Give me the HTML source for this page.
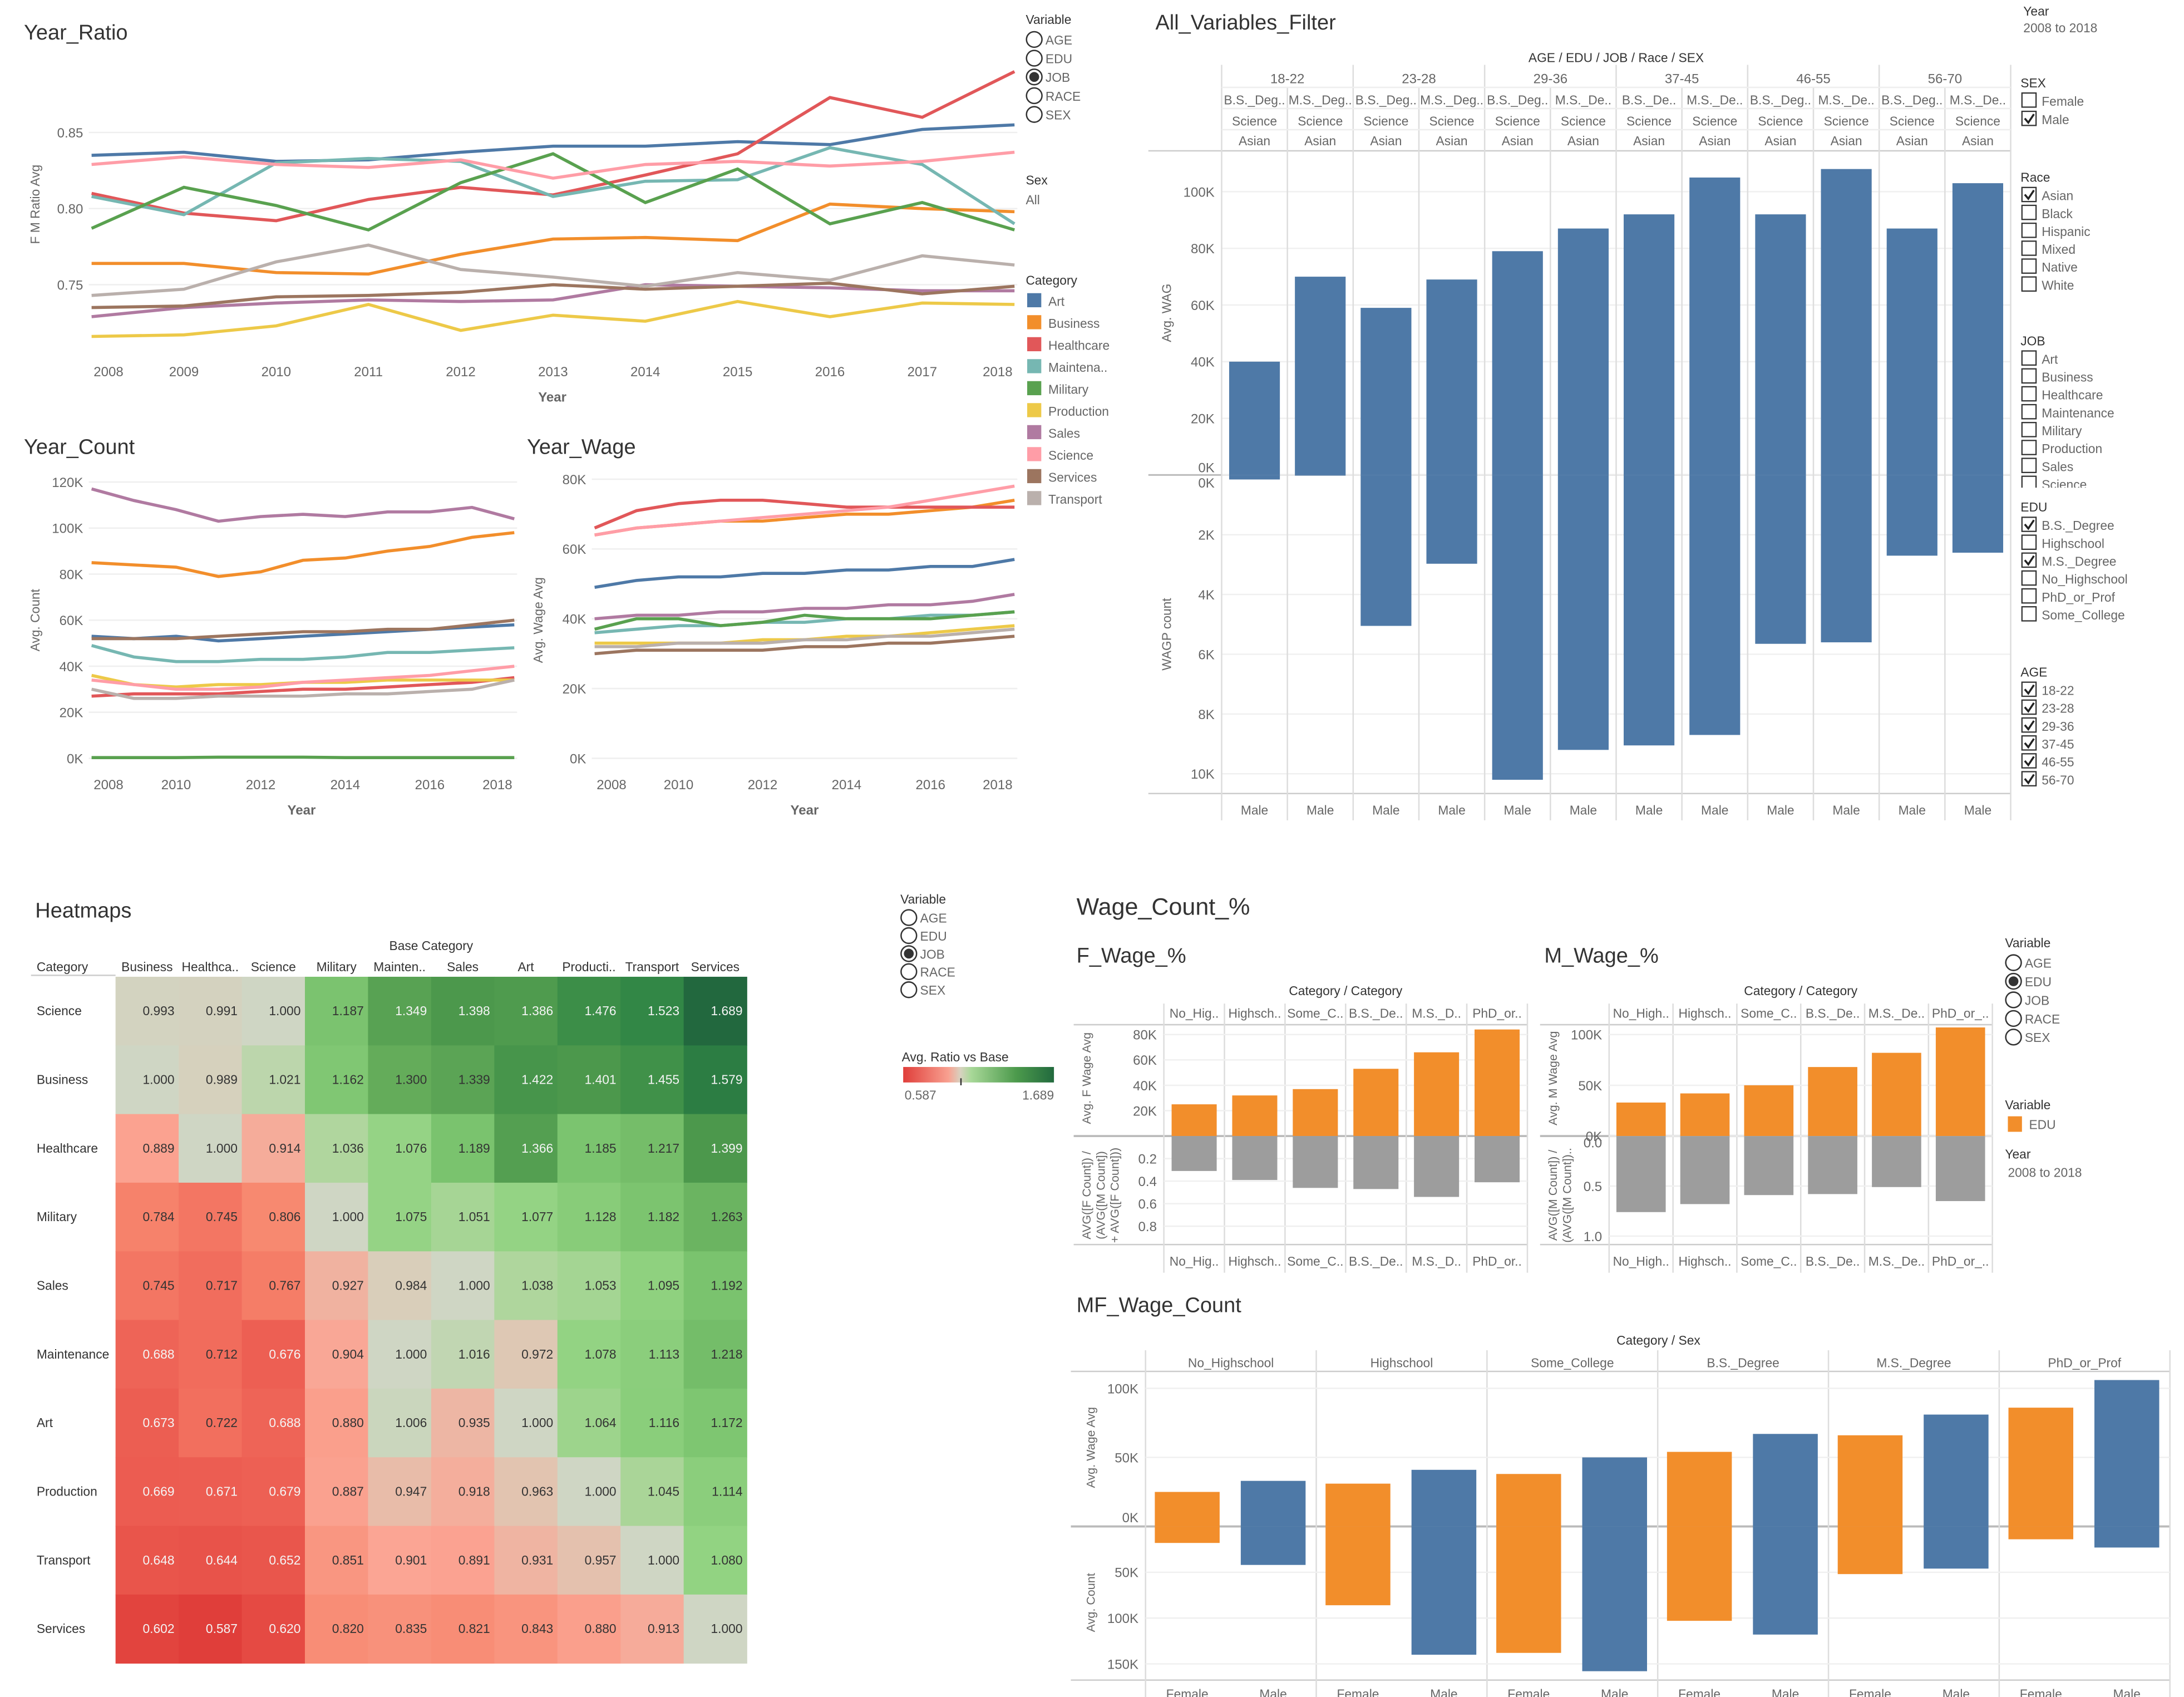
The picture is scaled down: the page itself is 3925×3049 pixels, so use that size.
<!DOCTYPE html>
<html><head><meta charset="utf-8"><style>
html,body{margin:0;padding:0;background:#fff}
svg{display:block}
text{font-family:"Liberation Sans",sans-serif}
</style></head><body>
<svg id="root" xmlns="http://www.w3.org/2000/svg" width="3925" height="3049" viewBox="0 0 1550 1204" preserveAspectRatio="none"></svg>
<script>
// ---------- data ----------
const years = [2008,2009,2010,2011,2012,2013,2014,2015,2016,2017,2018];
const categories = ["Art","Business","Healthcare","Maintenance","Military","Production","Sales","Science","Services","Transport"];
const legendLabels = ["Art","Business","Healthcare","Maintena..","Military","Production","Sales","Science","Services","Transport"];
const catColors = ["#4e79a7","#f28e2b","#e15759","#76b7b2","#59a14f","#edc948","#b07aa1","#ff9da7","#9c755f","#bab0ac"];
// Year_Ratio
const ratioArt = [0.835,0.837,0.831,0.832,0.837,0.841,0.841,0.844,0.842,0.852,0.855];
const ratioBusiness = [0.764,0.764,0.758,0.757,0.770,0.780,0.781,0.779,0.803,0.800,0.798];
const ratioHealthcare = [0.810,0.797,0.792,0.806,0.814,0.809,0.822,0.836,0.873,0.860,0.890];
const ratioMaintenance = [0.808,0.796,0.830,0.833,0.831,0.808,0.818,0.819,0.840,0.829,0.790];
const ratioMilitary = [0.787,0.814,0.802,0.786,0.817,0.836,0.804,0.826,0.790,0.804,0.786];
const ratioProduction = [0.716,0.717,0.723,0.737,0.720,0.730,0.726,0.739,0.729,0.738,0.737];
const ratioSales = [0.729,0.735,0.738,0.740,0.739,0.740,0.750,0.749,0.748,0.746,0.746];
const ratioScience = [0.829,0.834,0.829,0.827,0.832,0.820,0.829,0.831,0.828,0.831,0.837];
const ratioServices = [0.735,0.736,0.742,0.743,0.745,0.750,0.747,0.749,0.751,0.744,0.749];
const ratioTransport = [0.743,0.747,0.765,0.776,0.760,0.755,0.749,0.758,0.753,0.769,0.763];
const ratioTicks = [0.75,0.80,0.85];
// Year_Count (thousands)
const countArt = [53,52,53,51,52,53,54,55,56,57,58];
const countBusiness = [85,84,83,79,81,86,87,90,92,96,98];
const countHealthcare = [27,28,28,28,29,30,30,31,32,33,35];
const countMaintenance = [49,44,42,42,43,43,44,46,46,47,48];
const countMilitary = [0.3,0.3,0.3,0.5,0.5,0.5,0.3,0.3,0.3,0.3,0.3];
const countProduction = [36,32,31,32,32,33,33,34,34,34,34];
const countSales = [117,112,108,103,105,106,105,107,107,109,104];
const countScience = [34,32,30,30,31,33,34,35,36,38,40];
const countServices = [52,52,52,53,54,55,55,56,56,58,60];
const countTransport = [30,26,26,27,27,27,28,28,29,30,34];
const countTicks = [0,20,40,60,80,100,120];
// Year_Wage (thousands)
const wageArt = [49,51,52,52,53,53,54,54,55,55,57];
const wageBusiness = [64,66,67,68,68,69,70,70,71,72,74];
const wageHealthcare = [66,71,73,74,74,73,72,72,72,72,72];
const wageMaintenance = [36,37,38,38,39,39,40,40,41,41,42];
const wageMilitary = [37,40,40,38,39,41,40,40,40,41,42];
const wageProduction = [33,33,33,33,34,34,35,35,36,37,38];
const wageSales = [40,41,41,42,42,43,43,44,44,45,47];
const wageScience = [64,66,67,68,69,70,71,72,74,76,78];
const wageServices = [30,31,31,31,31,32,32,33,33,34,35];
const wageTransport = [32,32,33,33,33,34,34,35,35,36,37];
const wageTicks = [0,20,40,60,80];
// All_Variables_Filter
const avAges = ["18-22","23-28","29-36","37-45","46-55","56-70"];
const avEdu = ["B.S._Deg..","M.S._Deg..","B.S._Deg..","M.S._Deg..","B.S._Deg..","M.S._De..","B.S._De..","M.S._De..","B.S._Deg..","M.S._De..","B.S._Deg..","M.S._De.."];
const avWage = [40,70,59,69,79,87,92,105,92,108,87,103];
const avCount = [0.15,0.02,5.05,2.97,10.2,9.2,9.05,8.7,5.65,5.6,2.7,2.6];
const avWageTicks = [0,20,40,60,80,100];
const avCountTicks = [0,2,4,6,8,10];
// Heatmap
const hmRows = ["Science","Business","Healthcare","Military","Sales","Maintenance","Art","Production","Transport","Services"];
const hmCols = ["Business","Healthca..","Science","Military","Mainten..","Sales","Art","Producti..","Transport","Services"];
const hmScience = [0.993,0.991,1.000,1.187,1.349,1.398,1.386,1.476,1.523,1.689];
const hmBusiness = [1.000,0.989,1.021,1.162,1.300,1.339,1.422,1.401,1.455,1.579];
const hmHealthcare = [0.889,1.000,0.914,1.036,1.076,1.189,1.366,1.185,1.217,1.399];
const hmMilitary = [0.784,0.745,0.806,1.000,1.075,1.051,1.077,1.128,1.182,1.263];
const hmSales = [0.745,0.717,0.767,0.927,0.984,1.000,1.038,1.053,1.095,1.192];
const hmMaintenance = [0.688,0.712,0.676,0.904,1.000,1.016,0.972,1.078,1.113,1.218];
const hmArt = [0.673,0.722,0.688,0.880,1.006,0.935,1.000,1.064,1.116,1.172];
const hmProduction = [0.669,0.671,0.679,0.887,0.947,0.918,0.963,1.000,1.045,1.114];
const hmTransport = [0.648,0.644,0.652,0.851,0.901,0.891,0.931,0.957,1.000,1.080];
const hmServices = [0.602,0.587,0.620,0.820,0.835,0.821,0.843,0.880,0.913,1.000];
// Wage_Count_%
const eduShortF = ["No_Hig..","Highsch..","Some_C..","B.S._De..","M.S._D..","PhD_or.."];
const eduShortM = ["No_High..","Highsch..","Some_C..","B.S._De..","M.S._De..","PhD_or_.."];
const fWage = [25,32,37,53,66,84];
const fShare = [0.31,0.39,0.46,0.47,0.54,0.41];
const mWage = [33,42,50,68,82,107];
const mShare = [0.76,0.68,0.59,0.58,0.51,0.65];
const fWageTicks = [20,40,60,80];
const fShareTicks = [0.2,0.4,0.6,0.8];
const mWageTicks = [0,50,100];
const mShareTicks = [0.0,0.5,1.0];
// MF_Wage_Count
const eduFull = ["No_Highschool","Highschool","Some_College","B.S._Degree","M.S._Degree","PhD_or_Prof"];
const mfWageF = [25,31,38,54,66,86];
const mfWageM = [33,41,50,67,81,106];
const mfCountF = [18,86,138,103,52,14];
const mfCountM = [42,140,158,118,46,23];
const mfWageTicks = [0,50,100];
const mfCountTicks = [50,100,150];

// ---------- helpers ----------
const NS="http://www.w3.org/2000/svg";
const S=document.getElementById('root');
function el(tag,a,p){const e=document.createElementNS(NS,tag);for(const k in a)e.setAttribute(k,a[k]);(p||S).appendChild(e);return e;}
function nm(e,n,i){
  
  
  return e;}
function tx(x,y,s,o){o=o||{};const e=el('text',{x:x,y:y,'font-size':o.fs||9.5,fill:o.fill||'#666','text-anchor':o.a||'start'});if(o.rot)e.setAttribute('transform','rotate(-90 '+x+' '+y+')');if(o.fw)e.setAttribute('font-weight',o.fw);e.textContent=s;return e;}
function ln(x1,y1,x2,y2,c,w){return el('line',{x1:x1,y1:y1,x2:x2,y2:y2,stroke:c||'#e6e6e6','stroke-width':w||1});}
function kfmt(v){return v+'K';}

// ---------- line chart ----------
function lineChart(cfg){
  const xs=y=>cfg.x0+(y-years[0])*(cfg.x1-cfg.x0)/(years[years.length-1]-years[0]);
  const ys=v=>cfg.y0-(v-cfg.v0)*(cfg.y0-cfg.y1)/(cfg.v1-cfg.v0);
  nm(tx(cfg.tx,cfg.ty,cfg.title,{fs:15,fill:'#333'}),cfg.name+'-title',false);
  cfg.ticks.forEach(t=>{ln(cfg.x0-2,ys(t),cfg.x1+2,ys(t),'#efefef');nm(tx(cfg.x0-6,ys(t)+3.5,cfg.fmt(t),{a:'end'}),'y-tick-label',false);});
  cfg.xlabels.forEach(yr=>{let x=xs(yr);x=Math.max(cfg.x0+12,Math.min(cfg.x1-12,x));nm(tx(x,cfg.xly,String(yr),{a:'middle'}),'x-tick-label',false);});
  nm(tx(cfg.ylx,cfg.yly,cfg.ytitle,{rot:1,a:'middle',fs:9}),'y-axis-title',false);
  if(cfg.xtitle)nm(tx(cfg.xtx,cfg.xty,'Year',{a:'middle',fs:9.5,fw:'bold'}),'x-axis-title',false);
  cfg.series.forEach((s,i)=>{
    const d=s.map((v,j)=>(j?'L':'M')+xs(years[j]).toFixed(1)+','+ys(v).toFixed(1)).join(' ');
    const p=el('path',{d:d,fill:'none',stroke:catColors[i],'stroke-width':2.2});
    
    
  });
}
lineChart({name:'year-ratio',title:'Year_Ratio',tx:17,ty:28,x0:65,x1:720,y0:148,y1:94,v0:0.80,v1:0.85,ticks:ratioTicks,fmt:v=>v.toFixed(2),
  xlabels:years,xly:267,ylx:28,yly:145,ytitle:'F M Ratio Avg',xtitle:1,xtx:392,xty:285,
  series:[ratioArt,ratioBusiness,ratioHealthcare,ratioMaintenance,ratioMilitary,ratioProduction,ratioSales,ratioScience,ratioServices,ratioTransport]});
lineChart({name:'year-count',title:'Year_Count',tx:17,ty:322,x0:65,x1:365,y0:538,y1:342,v0:0,v1:120,ticks:countTicks,fmt:kfmt,
  xlabels:[2008,2010,2012,2014,2016,2018],xly:560,ylx:28,yly:440,ytitle:'Avg. Count',xtitle:1,xtx:214,xty:578,
  series:[countArt,countBusiness,countHealthcare,countMaintenance,countMilitary,countProduction,countSales,countScience,countServices,countTransport]});
lineChart({name:'year-wage',title:'Year_Wage',tx:374,ty:322,x0:422,x1:720,y0:538,y1:340,v0:0,v1:80,ticks:wageTicks,fmt:kfmt,
  xlabels:[2008,2010,2012,2014,2016,2018],xly:560,ylx:385,yly:440,ytitle:'Avg. Wage Avg',xtitle:1,xtx:571,xty:578,
  series:[wageArt,wageBusiness,wageHealthcare,wageMaintenance,wageMilitary,wageProduction,wageSales,wageScience,wageServices,wageTransport]});

// radio legend
function radios(x,y0,step,sel,title,ty){
  nm(tx(x-6,ty,title,{fs:9,fill:'#333'}),'variable-legend-title',false);
  ['AGE','EDU','JOB','RACE','SEX'].forEach((v,i)=>{
    const y=y0+i*step;
    const c=el('circle',{cx:x,cy:y-3,r:5.5,fill:'#fff',stroke:'#333','stroke-width':1});
    
    
    if(v===sel)el('circle',{cx:x,cy:y-3,r:3.5,fill:'#333'});
    nm(tx(x+8,y+0.5,v,{fs:9}),'radio-label',false);
  });
}
radios(734,31,13.3,'JOB','Variable',17);
nm(tx(728,131,'Sex',{fs:9,fill:'#333'}),'sex-filter-title',false);
nm(tx(728,145,'All',{fs:9}),'sex-filter-value',true);
nm(tx(728,202,'Category',{fs:9,fill:'#333'}),'category-legend-title',false);
legendLabels.forEach((l,i)=>{const y=212+i*15.6;
  const r=el('rect',{x:729,y:y-4,width:10,height:10,fill:catColors[i]});
  
  
  nm(tx(744,y+5,l,{fs:9}),'legend-entry',false);});

// ---------- All_Variables_Filter ----------
(function(){
  nm(tx(820,21,'All_Variables_Filter',{fs:15,fill:'#333'}),'all-variables-title',false);
  nm(tx(1147,44,'AGE / EDU / JOB / Race / SEX',{fs:9,a:'middle',fill:'#333'}),'column-header-title',false);
  const cx0=867,cw=(1427-867)/12;
  const yW=v=>337-v*2.01, yC=v=>337+v*21.2;
  ln(815,107,1427,107,'#ccc');ln(815,563,1427,563,'#ccc');ln(815,337,1427,337,'#bbb',1.2);
  avWageTicks.forEach(t=>{ln(867,yW(t),1427,yW(t),'#f0f0f0');nm(tx(862,yW(t)+(t?3.5:-2),t+'K',{a:'end'}),'y-tick-label',false);});
  avCountTicks.forEach(t=>{if(t)ln(867,yC(t),1427,yC(t),'#f0f0f0');nm(tx(862,yC(t)+(t?3.5:9),t+'K',{a:'end'}),'y-tick-label',false);});
  for(let i=0;i<=12;i++){const x=cx0+i*cw;ln(x,i%2?62:46,x,582,'#ddd');}
  ln(867,62,1427,62,'#eee');ln(867,77,1427,77,'#eee');ln(867,92,1427,92,'#eee');
  avAges.forEach((a,i)=>nm(tx(cx0+(2*i+1)*cw,59,a,{a:'middle'}),'age-header',false));
  avEdu.forEach((e,i)=>{const x=cx0+(i+.5)*cw;
    nm(tx(x,74,e,{a:'middle',fs:9}),'edu-header',false);
    nm(tx(x,89,'Science',{a:'middle',fs:9}),'job-header',false);
    nm(tx(x,103,'Asian',{a:'middle',fs:9}),'race-header',false);
    nm(tx(x,578,'Male',{a:'middle',fs:9}),'sex-label',false);});
  avWage.forEach((v,i)=>{const x=cx0+(i+.5)*cw-18;
    const r=el('rect',{x:x,y:yW(v),width:36,height:337-yW(v),fill:'#4e79a7'});
    
    });
  avCount.forEach((v,i)=>{const x=cx0+(i+.5)*cw-18;
    const r=el('rect',{x:x,y:337,width:36,height:yC(v)-337,fill:'#4e79a7'});
    
    });
  nm(tx(831,222,'Avg. WAG',{rot:1,a:'middle',fs:9}),'y-axis-title',false);
  nm(tx(831,450,'WAGP count',{rot:1,a:'middle',fs:9}),'y-axis-title',false);
  // filters
  nm(tx(1436,11,'Year',{fs:9,fill:'#333'}),'year-filter-title',false);
  nm(tx(1436,23,'2008 to 2018',{fs:9}),'year-filter-value',true);
  function checks(title,ty,items,checked,y0,step){
    nm(tx(1434,ty,title,{fs:9,fill:'#333'}),'filter-title',false);
    items.forEach((it,i)=>{const y=y0+i*step;
      const b=el('rect',{x:1435,y:y-8,width:10,height:10,fill:'#fff',stroke:'#333','stroke-width':0.9});
      
      
      if(checked.includes(it))el('path',{d:`M1437 ${y-3} L1439.5 ${y} L1443.5 ${y-6}`,fill:'none',stroke:'#222','stroke-width':1.4});
      nm(tx(1449,y+1,it,{fs:9}),'filter-option',false);});
  }
  checks('SEX',62,['Female','Male'],['Male'],74,13);
  checks('Race',129,['Asian','Black','Hispanic','Mixed','Native','White'],['Asian'],141,12.7);
  checks('JOB',245,['Art','Business','Healthcare','Maintenance','Military','Production','Sales','Science'],[],257,12.7);
  checks('EDU',363,['B.S._Degree','Highschool','M.S._Degree','No_Highschool','PhD_or_Prof','Some_College'],['B.S._Degree','M.S._Degree'],375,12.7);
  checks('AGE',480,avAges,avAges,492,12.7);
  el('rect',{x:1430,y:346,width:60,height:5,fill:'#fff'});
})();

// ---------- Heatmap ----------
(function(){
  nm(tx(25,651,'Heatmaps',{fs:15,fill:'#333'}),'heatmap-title',false);
  nm(tx(306,674,'Base Category',{fs:9,a:'middle',fill:'#333'}),'column-title',false);
  nm(tx(26,689,'Category',{fs:9,fill:'#333'}),'row-title',false);
  const rowsData=[hmScience,hmBusiness,hmHealthcare,hmMilitary,hmSales,hmMaintenance,hmArt,hmProduction,hmTransport,hmServices];
  const x0=82,cw=44.8,y0=693,rh=48.7;
  ln(22,692,82,692,'#ccc');
  hmCols.forEach((c,i)=>nm(tx(x0+(i+.5)*cw,689,c,{a:'middle',fs:9,fill:'#333'}),'column-header',false));
  const stops=[[0.587,[224,62,58]],[0.70,[240,104,90]],[0.80,[247,135,110]],[0.90,[251,165,148]],[0.98,[219,204,184]],[1.0,[207,214,196]],[1.03,[180,214,162]],[1.08,[146,211,130]],[1.19,[122,195,110]],[1.30,[100,172,90]],[1.40,[76,152,76]],[1.52,[50,136,70]],[1.689,[34,104,62]]];
  function col(v){for(let i=1;i<stops.length;i++){if(v<=stops[i][0]){const a=stops[i-1],b=stops[i],t=(v-a[0])/(b[0]-a[0]);return 'rgb('+a[1].map((c,k)=>Math.round(c+(b[1][k]-c)*t)).join(',')+')';}}return 'rgb(34,104,62)';}
  rowsData.forEach((r,j)=>{const y=y0+j*rh;
    nm(tx(26,y+rh/2+3,hmRows[j],{fs:9,fill:'#333'}),'row-label',false);
    r.forEach((v,i)=>{const x=x0+i*cw;
      const c=el('rect',{x:x,y:y,width:cw+0.3,height:rh+0.3,fill:col(v)});
      
      
      const light=(v>=1.34)||(v<=0.69);
      nm(tx(x+cw-3,y+rh/2+3,v.toFixed(3),{a:'end',fs:9,fill:light?'#f4f4f4':'#333'}),'cell-value',false);});});
  radios(645,654,12.8,'JOB','Variable',641);
  nm(tx(640,753,'Avg. Ratio vs Base',{fs:9,fill:'#333'}),'color-legend-title',false);
  const g=el('linearGradient',{id:'rg'},el('defs',{}));
  [[0,'#e03e3a'],[0.3,'#f8a090'],[0.38,'#d8d2c0'],[0.45,'#a8d898'],[0.75,'#4c9a4c'],[1,'#226a3e']].forEach(s=>el('stop',{offset:s[0],'stop-color':s[1]},g));
  nm(el('rect',{x:641,y:757,width:107,height:11,fill:'url(#rg)'}),'color-legend-bar',false);
  ln(682,765,682,770,'#333');
  nm(tx(642,780,'0.587',{fs:9}),'color-legend-min',false);
  nm(tx(748,780,'1.689',{fs:9,a:'end'}),'color-legend-max',false);
})();

// ---------- Wage_Count_% ----------
nm(tx(764,649,'Wage_Count_%',{fs:17,fill:'#333'}),'wage-count-title',false);
function pctPanel(cfg){
  nm(tx(cfg.tx,683,cfg.title,{fs:15,fill:'#333'}),cfg.name+'-title',false);
  nm(tx((cfg.x0+cfg.x1)/2,706,'Category / Category',{fs:9,a:'middle',fill:'#333'}),'column-header-title',false);
  const n=6,cw=(cfg.x1-cfg.x0)/n,base=806;
  const yW=v=>base-v*cfg.wScale, yS=v=>base+v*cfg.sScale;
  ln(cfg.px,727,cfg.x1,727,'#ccc');ln(cfg.px,883,cfg.x1,883,'#ccc');ln(cfg.px,base,cfg.x1,base,'#bbb',1.5);
  for(let i=0;i<=n;i++){const x=cfg.x0+i*cw;ln(x,712,x,903,'#ddd');}
  cfg.wTicks.forEach(t=>{ln(cfg.x0,yW(t),cfg.x1,yW(t),'#f0f0f0');nm(tx(cfg.x0-5,yW(t)+3.5,t+'K',{a:'end'}),'y-tick-label',false);});
  cfg.sTicks.forEach(t=>{ln(cfg.x0,yS(t),cfg.x1,yS(t),'#f0f0f0');nm(tx(cfg.x0-5,yS(t)+(t?3.5:8),t.toFixed(1),{a:'end'}),'y-tick-label',false);});
  cfg.labels.forEach((l,i)=>{const x=cfg.x0+(i+.5)*cw;
    nm(tx(x,722,l,{a:'middle',fs:9}),'category-header',false);
    nm(tx(x,898,l,{a:'middle',fs:9}),'category-footer',false);});
  cfg.wage.forEach((v,i)=>{const x=cfg.x0+(i+.5)*cw-cfg.bw/2;
    const r=el('rect',{x:x,y:yW(v),width:cfg.bw,height:base-yW(v),fill:'#f28e2b'});
    
    });
  cfg.share.forEach((v,i)=>{const x=cfg.x0+(i+.5)*cw-cfg.bw/2;
    const r=el('rect',{x:x,y:base,width:cfg.bw,height:yS(v)-base,fill:'#9d9d9d'});
    
    });
  nm(tx(cfg.px+12,765,cfg.ytop,{rot:1,a:'middle',fs:8.5}),'y-axis-title',false);
  cfg.ybot.forEach((s,k)=>nm(tx(cfg.px+12+k*10,848,s,{rot:1,a:'middle',fs:8.5}),'y-axis-title',false));
}
pctPanel({name:'f-wage',title:'F_Wage_%',tx:764,px:762,x0:826,x1:1084,bw:32,wScale:0.9,sScale:80,wTicks:fWageTicks,sTicks:fShareTicks,
  labels:eduShortF,wage:fWage,share:fShare,ytop:'Avg. F Wage Avg',ybot:['AVG([F Count]) /','(AVG([M Count])','+ AVG([F Count]))']});
pctPanel({name:'m-wage',title:'M_Wage_%',tx:1096,px:1093,x0:1142,x1:1414,bw:35,wScale:0.72,sScale:71,wTicks:mWageTicks,sTicks:mShareTicks,
  labels:eduShortM,wage:mWage,share:mShare,ytop:'Avg. M Wage Avg',ybot:['AVG([M Count]) /','(AVG([M Count])..']});
radios(1429,686,13.2,'EDU','Variable',672);
nm(tx(1423,787,'Variable',{fs:9,fill:'#333'}),'color-legend-title',false);
nm(el('rect',{x:1425,y:792,width:10,height:11,fill:'#f28e2b'}),'legend-swatch-edu',true);
nm(tx(1440,801,'EDU',{fs:9}),'legend-entry',false);
nm(tx(1423,822,'Year',{fs:9,fill:'#333'}),'year-filter-title',false);
nm(tx(1425,835,'2008 to 2018',{fs:9}),'year-filter-value',true);

// ---------- MF_Wage_Count ----------
(function(){
  nm(tx(764,931,'MF_Wage_Count',{fs:15,fill:'#333'}),'mf-wage-count-title',false);
  nm(tx(1177,954,'Category / Sex',{fs:9,a:'middle',fill:'#333'}),'column-header-title',false);
  const x0=813,x1=1540,gw=(x1-x0)/6,base=1083;
  const yW=v=>base-v*0.98, yC=v=>base+v*0.65;
  ln(760,973,x1,973,'#ccc');ln(760,1192,x1,1192,'#ccc');ln(760,base,x1,base,'#bbb',1.5);
  for(let i=0;i<=6;i++){const x=x0+i*gw;ln(x,958,x,1204,'#ddd');}
  mfWageTicks.forEach(t=>{if(t)ln(x0,yW(t),x1,yW(t),'#f0f0f0');nm(tx(808,yW(t)+(t?3.5:-3),t+'K',{a:'end'}),'y-tick-label',false);});
  mfCountTicks.forEach(t=>{ln(x0,yC(t),x1,yC(t),'#f0f0f0');nm(tx(808,yC(t)+3.5,t+'K',{a:'end'}),'y-tick-label',false);});
  eduFull.forEach((e,i)=>{const c=x0+(i+.5)*gw;
    nm(tx(c,970,e,{a:'middle',fs:9}),'category-header',false);
    nm(tx(c-31,1205,'Female',{a:'middle',fs:9}),'sex-label',false);
    nm(tx(c+30,1205,'Male',{a:'middle',fs:9}),'sex-label',false);});
  function bars(arr,off,color,isWage,name){
    arr.forEach((v,i)=>{const x=x0+(i+.5)*gw+off-23;
      const y=isWage?yW(v):base, h=isWage?base-yW(v):yC(v)-base;
      const r=el('rect',{x:x,y:y,width:46,height:h,fill:color});
      
      });
  }
  bars(mfWageF,-31,'#f28e2b',true,'female-wage-bar');
  bars(mfWageM,30,'#4e79a7',true,'male-wage-bar');
  bars(mfCountF,-31,'#f28e2b',false,'female-count-bar');
  bars(mfCountM,30,'#4e79a7',false,'male-count-bar');
  nm(tx(777,1027,'Avg. Wage Avg',{rot:1,a:'middle',fs:8.5}),'y-axis-title',false);
  nm(tx(777,1137,'Avg. Count',{rot:1,a:'middle',fs:8.5}),'y-axis-title',false);
})();
</script>
</body></html>
